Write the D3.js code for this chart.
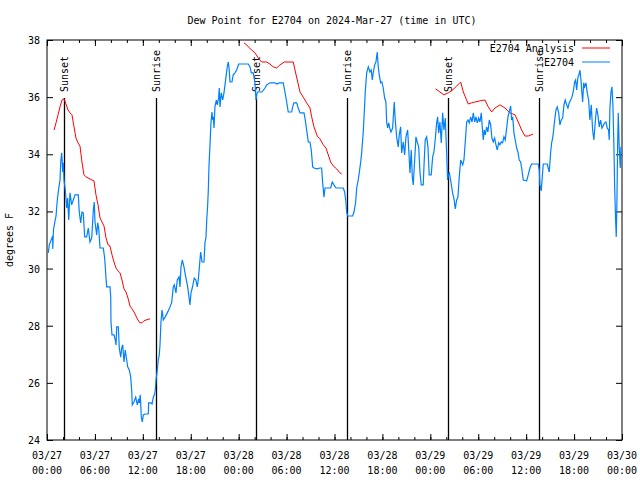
<!DOCTYPE html>
<html><head><meta charset="utf-8">
<script src="https://cdn.jsdelivr.net/npm/d3@7"></script>
<style>body{margin:0;background:#fff}svg{display:block}text{font-family:"DejaVu Sans Mono",monospace;font-size:10px;fill:#000}</style>
</head><body><div id="chart"></div>
<script>
const titleText = "Dew Point for E2704 on 2024-Mar-27 (time in UTC)";
const yLabel = "degrees F";
const startTime = Date.UTC(2024, 2, 27, 0, 0);
const endTime = Date.UTC(2024, 2, 30, 0, 0);
const yTicks = [24, 26, 28, 30, 32, 34, 36, 38];
const seriesNames = ["E2704 Analysis", "E2704"];
const seriesColors = ["#ff0000", "#0080ff"];

// observed dew point: hours since 03/27 00:00 UTC, value in F
const obsHours = [0.16,0.29,0.71,0.72,0.81,0.96,1.13,1.29,1.46,1.63,1.72,1.84,1.97,2.04,2.13,2.29,2.47,2.59,2.72,2.88,3.09,3.29,3.51,3.92,4.04,4.22,4.38,4.54,4.72,4.97,5.17,5.38,5.6,5.8,5.92,6.01,6.22,6.35,6.47,6.64,7.05,7.22,7.39,7.47,7.89,7.98,8.01,8.14,8.39,8.55,8.64,8.73,8.93,9.05,9.23,9.35,9.48,9.64,9.8,9.98,10.1,10.3,10.48,10.6,10.68,10.89,11.11,11.31,11.48,11.56,11.68,11.81,11.93,12.06,12.27,12.68,12.73,13.02,13.15,13.31,13.48,13.56,13.65,13.81,13.93,14.06,14.15,14.27,14.4,14.49,14.56,14.81,15.06,15.31,15.49,15.61,15.81,15.94,16.15,16.31,16.53,16.65,16.78,16.94,17.15,17.37,17.62,17.9,18.03,18.19,18.44,18.65,18.82,18.94,19.07,19.24,19.41,19.66,19.78,19.91,20.0,20.12,20.2,20.28,20.41,20.53,20.66,20.75,20.82,20.91,21.03,21.2,21.32,21.5,21.57,21.66,21.82,22.0,22.16,22.32,22.57,22.7,22.82,22.91,23.16,23.32,23.54,23.75,24.0,25.2,25.42,25.58,25.83,26.04,26.17,26.33,26.92,27.29,27.51,27.92,28.55,28.76,29.08,29.58,29.8,30.01,30.21,30.64,30.76,30.92,31.26,31.46,31.68,32.18,32.34,32.51,32.72,32.93,33.09,33.27,33.43,33.84,34.18,34.39,34.52,34.68,34.81,35.52,35.72,35.93,36.18,37.1,37.27,37.43,37.52,37.65,38.27,38.44,38.65,38.78,38.97,39.1,39.28,39.4,39.6,39.73,39.85,40.03,40.23,40.44,40.6,40.73,40.85,41.03,41.19,41.35,41.48,41.6,41.78,41.94,42.1,42.28,42.44,42.53,42.66,42.78,42.94,43.07,43.28,43.48,43.61,43.78,43.98,44.11,44.28,44.41,44.61,44.78,44.95,45.16,45.32,45.45,45.61,45.74,45.86,46.04,46.2,46.36,46.54,46.7,46.86,47.11,47.2,47.36,47.54,47.7,47.86,48.11,48.29,48.45,48.61,48.79,48.91,49.04,49.2,49.37,49.54,49.7,49.87,50.04,50.16,50.37,50.54,50.79,50.99,51.12,51.3,51.46,51.62,51.8,52.05,52.21,52.3,52.42,52.55,52.71,52.88,53.05,53.22,53.38,53.55,53.71,53.88,54.05,54.21,54.38,54.5,54.63,54.75,54.88,55.05,55.21,55.38,55.56,55.71,55.88,56.05,56.22,56.38,56.56,56.72,56.88,57.05,57.22,57.38,57.56,57.72,57.88,58.06,58.18,58.31,58.47,58.63,58.81,58.97,59.13,59.31,59.47,59.64,60.06,60.26,60.47,60.68,61.51,61.64,61.72,61.89,62.01,62.14,62.64,62.76,62.89,63.07,63.19,63.32,63.44,63.57,63.73,63.89,64.07,64.23,64.39,64.57,64.73,64.89,65.07,65.23,65.39,65.57,65.73,65.89,66.07,66.19,66.32,66.48,66.61,66.73,66.86,66.98,67.07,67.2,67.32,67.49,67.65,67.82,67.98,68.15,68.32,68.48,68.65,68.82,68.98,69.15,69.32,69.49,69.82,69.99,70.15,70.32,70.4,70.49,70.61,70.74,70.86,70.99,71.08,71.2,71.28,71.36,71.45,71.53,71.65,71.78,71.87];
const obsDewpt = [30.55,30.83,31.14,30.69,31.35,31.6,31.84,32.4,32.79,33.1,33.73,34.05,33.38,33.7,33.1,32.75,32.12,32.47,31.7,32.65,32.23,32.4,32.58,32.58,31.98,31.6,31.98,31.95,31.11,31.11,31.42,30.93,31.07,32.05,32.33,31.63,31.18,31.6,31.42,30.72,30.72,30.37,29.67,29.36,29.36,29.0,28.13,27.68,27.68,27.5,27.33,27.96,27.96,27.22,26.9,27.22,27.33,26.73,27.15,26.8,26.56,26.45,26.21,25.75,25.23,25.33,25.5,25.23,25.44,25.3,25.58,24.81,24.63,24.88,24.91,24.91,25.3,25.3,25.26,25.5,25.61,25.75,26.1,26.45,26.8,26.98,27.33,28.13,28.55,28.38,28.2,28.31,28.45,28.59,28.73,28.8,29.36,29.43,29.15,29.6,29.71,29.36,30.06,30.3,30.06,29.71,29.36,28.73,29.15,29.32,29.67,29.6,29.36,29.6,30.02,30.58,30.23,30.23,30.9,31.11,31.7,32.23,32.75,33.56,34.33,35.1,35.48,35.2,35.31,34.92,35.66,35.9,35.73,36.0,36.32,35.66,36.15,35.9,36.15,36.5,37.06,37.23,36.95,36.53,36.53,36.78,36.85,36.95,37.16,37.16,37.06,36.85,36.85,36.5,35.9,36.18,36.18,36.32,36.43,36.5,36.5,36.46,36.5,36.5,36.18,35.83,35.48,35.48,35.66,35.8,35.8,35.62,35.45,35.45,35.2,34.85,34.43,34.43,34.15,33.56,33.52,33.49,33.52,33.52,33.0,32.5,32.82,32.82,33.03,32.93,32.82,32.82,32.68,32.33,31.98,31.84,31.84,31.98,32.33,32.82,33.1,33.35,33.73,34.05,34.78,35.48,36.18,36.85,37.06,36.88,36.95,36.6,36.85,37.13,37.23,37.58,37.06,36.78,36.5,36.53,36.32,35.97,35.83,35.13,34.92,35.1,34.89,34.78,34.92,35.83,35.2,34.61,34.26,34.68,34.96,34.05,34.43,33.98,34.61,34.85,34.05,33.35,34.15,33.21,32.93,33.8,34.61,34.43,34.26,33.38,32.93,32.93,33.56,34.5,34.61,34.26,33.28,33.28,33.91,34.08,34.5,35.1,35.31,34.75,35.13,34.4,35.45,34.85,35.27,34.05,33.1,33.38,33.1,32.65,32.4,32.09,32.4,32.51,33.21,33.8,33.63,33.8,34.15,34.61,35.13,35.2,35.1,35.31,35.13,35.45,35.13,35.31,35.1,35.27,35.13,35.45,34.96,34.5,34.85,34.68,34.96,34.78,35.2,35.03,34.57,34.43,34.57,34.33,34.15,34.4,34.33,34.43,34.4,34.61,34.5,34.92,35.31,35.48,35.69,35.2,35.31,34.75,34.5,34.22,34.08,33.8,33.73,33.45,33.1,33.07,33.28,33.52,33.66,33.66,33.45,32.93,32.72,33.17,33.66,33.66,33.52,33.38,34.08,34.4,34.57,34.85,35.2,35.55,35.66,35.45,35.03,35.2,35.27,35.73,35.9,35.73,35.62,35.8,35.9,36.0,36.18,36.53,36.6,36.25,36.7,36.78,36.95,36.6,36.15,35.83,36.5,36.36,36.5,36.15,35.9,35.2,35.73,34.85,34.5,35.13,35.62,35.38,34.96,35.2,34.92,35.1,35.13,34.92,34.85,34.5,35.62,36.15,36.36,35.73,34.26,32.86,31.7,31.11,32.23,34.26,35.45,34.26,33.52,34.26];

// analysis dew point (null = gap)
const anaHours = [0.88,1.13,1.38,1.63,1.88,2.13,2.38,2.63,2.88,3.13,3.38,3.63,3.88,4.13,4.38,4.63,4.88,5.13,5.63,5.88,6.13,6.39,6.64,6.89,7.14,7.39,7.64,7.89,8.14,8.39,8.64,8.89,9.14,9.39,9.64,9.89,10.14,10.39,10.64,10.89,11.14,11.39,11.64,11.89,12.14,12.39,12.9,null,24.67,25.0,25.2,25.63,26.04,26.46,26.88,27.51,27.92,28.33,28.76,29.17,29.71,30.84,31.05,31.34,31.68,32.09,32.51,32.93,33.14,33.43,33.84,34.18,34.59,34.93,35.22,35.52,35.85,36.27,36.68,36.9,null,48.66,49.2,49.7,50.24,50.79,51.3,51.8,52.13,52.75,53.17,53.59,54.21,54.84,55.25,55.68,56.09,56.72,57.35,57.97,58.6,59.01,59.43,59.85,60.26,60.88];
const anaDewpt = [34.85,35.1,35.38,35.66,35.9,35.94,35.76,35.55,35.45,35.38,34.96,34.57,34.4,34.29,33.73,33.28,33.21,33.17,33.1,33.07,32.58,32.23,31.77,31.63,31.49,31.07,30.83,30.79,30.48,30.23,30.02,29.92,29.85,29.6,29.29,29.18,28.97,28.69,28.59,28.48,28.34,28.2,28.1,28.1,28.17,28.2,28.24,null,37.9,37.83,37.76,37.65,37.55,37.37,37.23,37.23,37.16,37.06,37.02,37.13,37.23,37.23,36.95,36.6,36.18,36.0,35.8,35.62,35.31,34.96,34.64,34.54,34.33,34.22,33.98,33.73,33.59,33.49,33.35,33.31,null,36.29,36.18,36.08,36.15,36.25,36.39,36.53,36.18,35.76,35.8,35.83,35.87,35.9,35.66,35.48,35.62,35.73,35.62,35.45,35.38,35.13,34.85,34.64,34.64,34.71];

// sun events (hours since start)
const sunHours = [2.17, 13.68, 26.17, 37.6, 50.25, 61.65];
const sunLabels = ["Sunset", "Sunrise", "Sunset", "Sunrise", "Sunset", "Sunrise"];

const W = 640, H = 480;
const m = {l: 47, r: 18, t: 40, b: 40};
const svg = d3.select("#chart").append("svg").attr("width", W).attr("height", H);
const HOUR = 3600000;
const x = d3.scaleUtc().domain([new Date(startTime), new Date(endTime)]).range([m.l, W - m.r]);
const y = d3.scaleLinear().domain([24, 38]).range([H - m.b, m.t]);
const tAt = h => new Date(startTime + h * HOUR);

// axes
const fmtD = d3.utcFormat("%m/%d"), fmtT = d3.utcFormat("%H:%M");
const majors = d3.utcHour.every(6).range(new Date(startTime), new Date(endTime + 1));
const minors = d3.utcHour.every(2).range(new Date(startTime), new Date(endTime + 1));
const axB = svg.append("g").attr("transform", `translate(0,${H - m.b})`)
  .call(d3.axisBottom(x).tickValues(majors).tickSize(-6).tickFormat(""));
const axBm = svg.append("g").attr("transform", `translate(0,${H - m.b})`)
  .call(d3.axisBottom(x).tickValues(minors).tickSize(-3).tickFormat(""));
const axT = svg.append("g").attr("transform", `translate(0,${m.t})`)
  .call(d3.axisTop(x).tickValues(majors).tickSize(-6).tickFormat(""));
const axTm = svg.append("g").attr("transform", `translate(0,${m.t})`)
  .call(d3.axisTop(x).tickValues(minors).tickSize(-3).tickFormat(""));
const axL = svg.append("g").attr("transform", `translate(${m.l},0)`)
  .call(d3.axisLeft(y).tickValues(yTicks).tickSize(-6).tickPadding(7).tickFormat(d3.format("d")));
const axR = svg.append("g").attr("transform", `translate(${W - m.r},0)`)
  .call(d3.axisRight(y).tickValues(yTicks).tickSize(-6).tickFormat(""));
[axB, axBm, axT, axTm, axL, axR].forEach(g => {
  g.select(".domain").remove();
  g.selectAll("line").attr("stroke", "#000");
  g.selectAll("text").attr("font-family", "DejaVu Sans Mono").attr("font-size", 10).attr("fill", "#000");
});
axL.selectAll("text").attr("dy", "0.35em");

// x tick labels, two lines
const xl = svg.append("g");
majors.forEach(d => {
  const t = xl.append("text").attr("x", x(d)).attr("text-anchor", "middle");
  t.append("tspan").attr("x", x(d)).attr("y", 459).text(fmtD(d));
  t.append("tspan").attr("x", x(d)).attr("y", 474).text(fmtT(d));
});

// border
svg.append("rect").attr("x", m.l).attr("y", m.t).attr("width", W - m.l - m.r).attr("height", H - m.t - m.b)
  .attr("fill", "none").attr("stroke", "#000").attr("stroke-width", 1);

// sun lines
sunHours.forEach((h, i) => {
  const xp = Math.round(x(tAt(h))) + 0.5;
  svg.append("line").attr("x1", xp).attr("x2", xp).attr("y1", 98).attr("y2", H - m.b)
    .attr("stroke", "#000").attr("stroke-width", 1.3);
  svg.append("text").attr("transform", `translate(${xp},92) rotate(-90)`)
    .attr("dy", "0.35em").attr("text-anchor", "start").text(sunLabels[i]);
});

// series
const clipId = "clip";
svg.append("clipPath").attr("id", clipId).append("rect").attr("x", m.l).attr("y", m.t)
  .attr("width", W - m.l - m.r).attr("height", H - m.t - m.b);
const obs = obsHours.map((h, i) => [h, obsDewpt[i]]);
const ana = anaHours.map((h, i) => [h, anaDewpt[i]]);
const line = d3.line().defined(d => d[0] !== null && d[1] !== null)
  .x(d => x(tAt(d[0]))).y(d => y(d[1]));
svg.append("path").datum(ana).attr("d", line).attr("fill", "none")
  .attr("stroke", seriesColors[0]).attr("stroke-width", 1).attr("clip-path", `url(#${clipId})`);
svg.append("path").datum(obs).attr("d", line).attr("fill", "none")
  .attr("stroke", seriesColors[1]).attr("stroke-width", 1.2).attr("clip-path", `url(#${clipId})`);

// legend
seriesNames.forEach((n, i) => {
  const ly = 48 + i * 14;
  svg.append("text").attr("x", 574).attr("y", ly).attr("dy", "0.35em").attr("text-anchor", "end").text(n);
  svg.append("line").attr("x1", 582).attr("x2", 610).attr("y1", ly).attr("y2", ly)
    .attr("stroke", seriesColors[i]).attr("stroke-width", 1);
});

// title & y label
svg.append("text").attr("x", 332).attr("y", 24).attr("text-anchor", "middle").text(titleText);
svg.append("text").attr("transform", "translate(13,240) rotate(-90)").attr("text-anchor", "middle").text(yLabel);
</script></body></html>
